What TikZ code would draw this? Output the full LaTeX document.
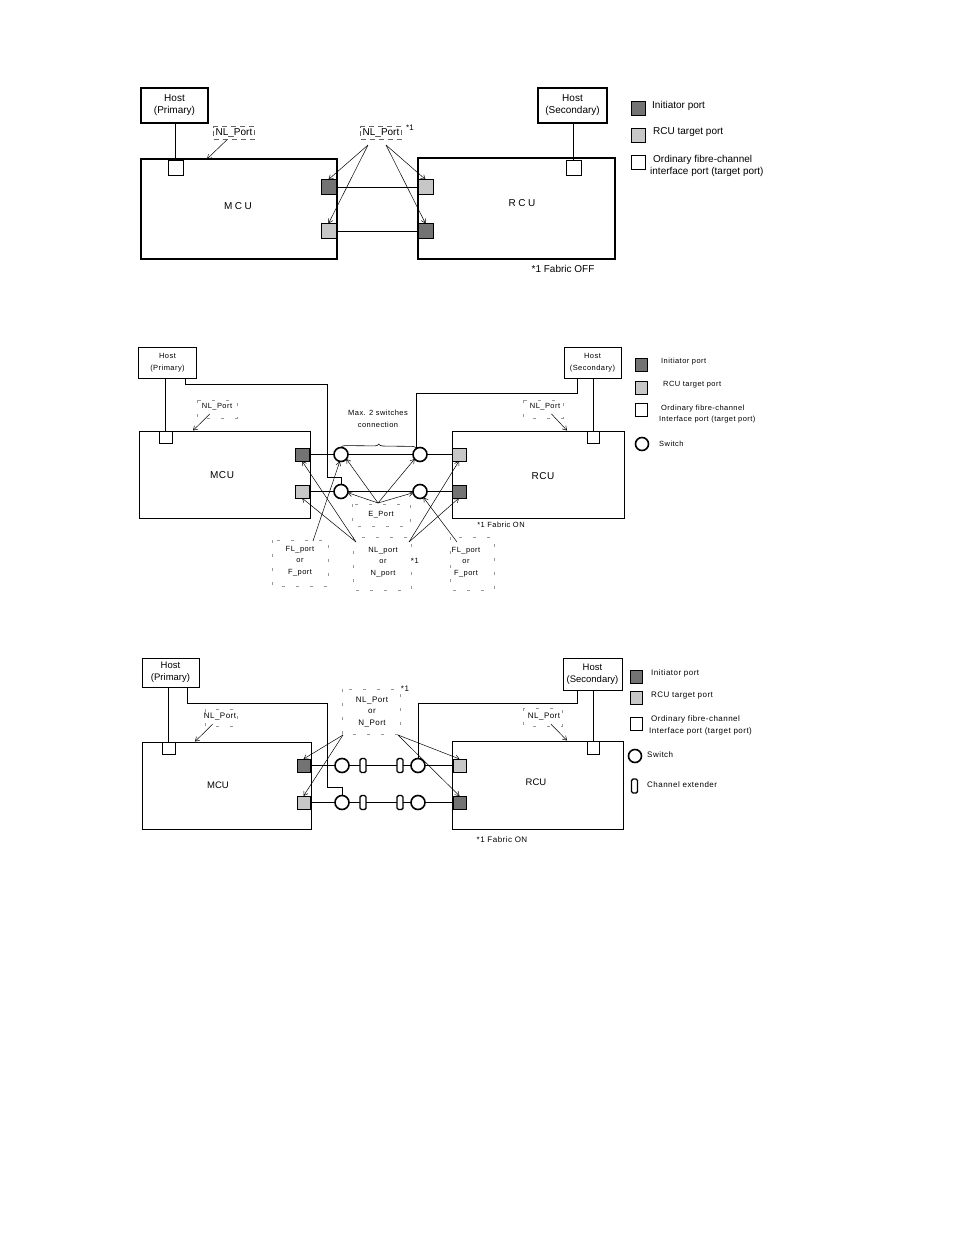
\documentclass[tikz,border=0pt]{standalone}
\usepackage{fontspec}
\setmainfont{Liberation Sans}
\newfontfamily\spcfont[LetterSpace=6]{Liberation Sans}
\newfontfamily\widefont[LetterSpace=25]{Liberation Sans}
\usetikzlibrary{arrows.meta,decorations.pathreplacing,calc}
\newcommand\ftop{\fontsize{10}{12}\selectfont}
\newcommand\fmid{\spcfont\fontsize{7.5}{11.5}\selectfont}
\newcommand\fbot{\spcfont\fontsize{8}{11.5}\selectfont}
\tikzset{
  heavybox/.style={draw, line width=1.7pt, inner sep=0pt, outer sep=0pt, fill=white},
  lightbox/.style={draw, line width=0.8pt, inner sep=0pt, outer sep=0pt, fill=white},
  portbase/.style={draw, line width=0.7pt, inner sep=0pt, outer sep=0pt},
  iport/.style={portbase, fill=black!55},
  tport/.style={portbase, fill=black!22},
  oport/.style={portbase, fill=white},
  switchnode/.style={circle, draw, line width=1.6pt, fill=white, inner sep=0pt, outer sep=0pt, minimum size=14pt},
  extnode/.style={rectangle, rounded corners=1.5pt, draw, line width=1.4pt, fill=white, inner sep=0pt, outer sep=0pt, minimum width=6pt, minimum height=14pt},
  conn/.style={line width=0.8pt},
  arr/.style={line width=0.5pt, -{Straight Barb[length=4pt,width=5pt]}},
  dlab/.style={draw=black!60, dash pattern=on 5pt off 4pt, line width=0.5pt, inner sep=2pt},
  dbox/.style={draw=black!40, dash pattern=on 3pt off 11pt, line width=0.5pt},
  txt/.style={inner sep=0pt, align=center},
}
\begin{document}
\begin{tikzpicture}[x=1pt,y=-1pt]
\path[use as bounding box] (0,0) rectangle (954,1235);

% ================= TOP DIAGRAM =================
\node[heavybox, minimum width=67pt, minimum height=35pt, align=center, font=\ftop] (h1) at (174.5,105.5) {Host\\(Primary)};
\node[heavybox, minimum width=196pt, minimum height=100pt] (mcu1) at (239,209) {};
\node[font=\widefont\fontsize{10}{12}\selectfont] at (238,206) {MCU};
\node[heavybox, minimum width=197pt, minimum height=101pt] (rcu1) at (516.5,208.5) {};
\node[font=\widefont\fontsize{10}{12}\selectfont] at (522,203) {RCU};
\node[heavybox, minimum width=69pt, minimum height=35pt, align=center, font=\ftop] (h2) at (572.5,105.5) {Host\\(Secondary)};

\node[oport, minimum size=15pt] (hp1) at (175.5,167.5) {};
\node[iport, minimum size=15pt] (m1) at (328.5,187) {};
\node[tport, minimum size=15pt] (m2) at (328.5,231) {};
\node[tport, minimum size=15pt] (r1) at (425.5,187) {};
\node[iport, minimum size=15pt] (r2) at (425.5,231) {};
\node[oport, minimum size=15pt] (hp2) at (573.5,167.5) {};

\draw[conn] (hp1.north) -- (hp1.north |- h1.south);
\draw[conn] (hp2.north) -- (hp2.north |- h2.south);
\draw[conn] (m1) -- (r1);
\draw[conn] (m2) -- (r2);

\node[dlab, font=\ftop] (nl1) at (234,133) {NL\_Port};
\coordinate (t1) at (207,159);
\draw[arr] (nl1) -- (t1);
\node[dlab, font=\ftop] (nl2) at (381,133) {NL\_Port};
\node[font=\fontsize{8}{9}\selectfont, inner sep=0pt] (st1) at (410,128) {*1};
\coordinate (o1) at (368,145);
\coordinate (o2) at (386,145);
\draw[arr] (o1) -- (m1.north);
\draw[arr] (o1) -- (m2.north);
\draw[arr] (o2) -- (r1.north);
\draw[arr] (o2) -- (r2.north);
\node[font=\ftop, inner sep=0pt] (fab1) at (563,269) {*1 Fabric OFF};

\node[iport, minimum size=14pt] (lg1) at (638.5,108.5) {};
\node[font=\ftop, anchor=west, inner sep=0pt] (lt1) at (652,106) {Initiator port};
\node[tport, minimum size=14pt] (lg2) at (638.5,135.5) {};
\node[font=\ftop, anchor=west, inner sep=0pt] (lt2) at (653,132) {RCU target port};
\node[oport, minimum size=14pt] (lg3) at (638.5,162.5) {};
\node[font=\ftop, anchor=west, inner sep=0pt, align=left] (lt3) at (650,165.5) {\hspace{3pt}Ordinary fibre-channel\\interface port (target port)};

% ================= MIDDLE DIAGRAM =================
\node[lightbox, minimum width=58pt, minimum height=31pt, align=center, font=\fmid] (h3) at (167.5,362.5) {Host\\(Primary)};
\node[lightbox, minimum width=171pt, minimum height=87pt] (mcu2) at (224.5,474.5) {};
\node[font=\spcfont\fontsize{10}{12}\selectfont] at (222,475) {MCU};
\node[lightbox, minimum width=172pt, minimum height=87pt] (rcu2) at (538,474.5) {};
\node[font=\spcfont\fontsize{10}{12}\selectfont] at (543,476) {RCU};
\node[lightbox, minimum width=57pt, minimum height=31pt, align=center, font=\fmid] (h4) at (592.5,362.5) {Host\\(Secondary)};

\node[oport, minimum width=13pt, minimum height=12pt] (hp3) at (165.5,437) {};
\node[iport, minimum width=14pt, minimum height=13pt] (m3) at (302,454.5) {};
\node[tport, minimum width=14pt, minimum height=13pt] (m4) at (302,491.5) {};
\node[tport, minimum width=14pt, minimum height=13pt] (r3) at (459,454.5) {};
\node[iport, minimum width=14pt, minimum height=13pt] (r4) at (459,491.5) {};
\node[oport, minimum width=12pt, minimum height=12pt] (hp4) at (593,437) {};

\node[switchnode] (sw1) at (341,454.5) {};
\node[switchnode] (sw2) at (420,454.5) {};
\node[switchnode] (sw3) at (341,491.5) {};
\node[switchnode] (sw4) at (420,491.5) {};

\draw[conn] (m3) -- (sw1) -- (sw2) -- (r3);
\draw[conn] (m4) -- (sw3) -- (sw4) -- (r4);
\draw[conn] (hp3.north) -- (hp3.north |- h3.south);
\draw[conn] ([xshift=17.5pt]h3.south) -- ++(0,6) -| (327,477) -| (sw3.north);
\draw[conn] ([xshift=-15.5pt]h4.south) -- ++(0,15) -| (sw2.120);
\draw[conn] (hp4.north) -- (hp4.north |- h4.south);
\draw[line width=0.6pt, decorate, decoration={brace, amplitude=4pt}] (sw1.north) -- (sw2.120);

\node[font=\fmid, align=center] (mx) at (378,419) {Max. 2 switches\\connection};
\node[font=\fmid] (nl3) at (217,407) {NL\_Port};
\draw[dbox] (197,400) rectangle (237,418);
\coordinate (t3) at (193,430.5);
\draw[arr] (nl3) -- (t3);
\node[font=\fmid] (nl4) at (545,407) {NL\_Port};
\draw[dbox] (523,400) rectangle (563,418);
\coordinate (t4) at (567,430.5);
\draw[arr] (nl4) -- (t4);

\node[font=\fmid] (ep) at (381,515) {E\_Port};
\draw[dbox] (352,504) rectangle (410,526);
\coordinate (epo) at (378,503);
\draw[arr] (epo) -- (sw1.-40);
\draw[arr] (epo) -- (sw3.-10);
\draw[arr] (epo) -- (sw2.-140);
\draw[arr] (epo) -- (sw4.190);

\node[font=\fmid, align=center] (nlm) at (383,562) {NL\_port\\or\\N\_port};
\node[font=\fmid, inner sep=0pt] (st2) at (415,561) {*1};
\draw[dbox] (353,537) rectangle (411,590);
\coordinate (nlo1) at (356,542);
\coordinate (nlo2) at (409,542);
\draw[arr] (nlo1) -- (m3.south);
\draw[arr] (nlo1) -- (m4.south);
\draw[arr] (nlo2) -- (r3.south);
\draw[arr] (nlo2) -- (r4.south);

\node[font=\fmid, align=center] (fl1) at (300,561) {FL\_port\\or\\F\_port};
\draw[dbox] (272,540) rectangle (328,586);
\coordinate (flo1) at (313,541);
\draw[arr] (flo1) -- (sw1.-100);
\node[font=\fmid, align=center] (fl2) at (466,562) {FL\_port\\or\\F\_port};
\draw[dbox] (450,537) rectangle (494,590);
\coordinate (flo2) at (457,542);
\draw[arr] (flo2) -- (sw4.-60);

\node[font=\fmid, inner sep=0pt] (fab2) at (501,525) {*1 Fabric ON};

\node[iport, minimum width=12pt, minimum height=13pt] (lg4) at (641,365) {};
\node[font=\fmid, anchor=west, inner sep=0pt] (lt4) at (661,362) {Initiator port};
\node[tport, minimum width=12pt, minimum height=13pt] (lg5) at (641,387.5) {};
\node[font=\fmid, anchor=west, inner sep=0pt] (lt5) at (663,385) {RCU target port};
\node[oport, minimum width=12pt, minimum height=13pt] (lg6) at (641,410) {};
\node[font=\fmid, anchor=west, inner sep=0pt, align=left] (lt6) at (659,414) {\hspace{2pt}Ordinary fibre-channel\\Interface port (target port)};
\node[switchnode, minimum size=13pt] (lg7) at (642,444) {};
\node[font=\fmid, anchor=west, inner sep=0pt] (lt7) at (659,444) {Switch};

% ================= BOTTOM DIAGRAM =================
\node[lightbox, minimum width=57pt, minimum height=29pt, align=center, font=\fontsize{9.5}{12}\selectfont] (h5) at (170.5,672.5) {Host\\(Primary)};
\node[lightbox, minimum width=169pt, minimum height=87pt] (mcu3) at (226.5,785.5) {};
\node[font=\fontsize{9.5}{12}\selectfont] at (218,785) {MCU};
\node[lightbox, minimum width=171pt, minimum height=88pt] (rcu3) at (537.5,785) {};
\node[font=\fontsize{9.5}{12}\selectfont] at (536,782) {RCU};
\node[lightbox, minimum width=59pt, minimum height=32pt, align=center, font=\fontsize{9.5}{12}\selectfont] (h6) at (592.5,674) {Host\\(Secondary)};

\node[oport, minimum width=13pt, minimum height=12pt] (hp5) at (168.5,748) {};
\node[iport, minimum size=13pt] (m5) at (303.5,765.5) {};
\node[tport, minimum size=13pt] (m6) at (303.5,802.5) {};
\node[tport, minimum size=13pt] (r5) at (459.5,765.5) {};
\node[iport, minimum size=13pt] (r6) at (459.5,802.5) {};
\node[oport, minimum width=12pt, minimum height=13pt] (hp6) at (593,747.5) {};

\node[switchnode] (sw5) at (342,765.5) {};
\node[extnode] (e1) at (363,765.5) {};
\node[extnode] (e2) at (400,765.5) {};
\node[switchnode] (sw6) at (418,765.5) {};
\node[switchnode] (sw7) at (342,802.5) {};
\node[extnode] (e3) at (363,802.5) {};
\node[extnode] (e4) at (400,802.5) {};
\node[switchnode] (sw8) at (418,802.5) {};

\draw[conn] (m5) -- (sw5) -- (e1) -- (e2) -- (sw6) -- (r5);
\draw[conn] (m6) -- (sw7) -- (e3) -- (e4) -- (sw8) -- (r6);
\draw[conn] (hp5.north) -- (hp5.north |- h5.south);
\draw[conn] ([xshift=16.5pt]h5.south) -- ++(0,16) -| (327,787) -| (sw7.north);
\draw[conn] ([xshift=-15.5pt]h6.south) -- ++(0,13) -| (sw6.north);
\draw[conn] (hp6.north) -- (hp6.north |- h6.south);

\node[font=\fbot] (nl5) at (220,717) {NL\_Port};
\draw[dbox] (205,709) rectangle (237,726);
\coordinate (t5) at (195,741.5);
\draw[arr] (nl5) -- (t5);
\node[font=\fbot] (nl6) at (544,717) {NL\_Port};
\draw[dbox] (523,708) rectangle (562,726);
\coordinate (t6) at (567,740.5);
\draw[arr] (nl6) -- (t6);

\node[font=\fbot, align=center] (nlc) at (372,712) {NL\_Port\\or\\N\_Port};
\node[font=\fbot, inner sep=0pt] (st3) at (405,689) {*1};
\draw[dbox] (342,689) rectangle (400,734);
\coordinate (co1) at (343,735);
\coordinate (co2) at (398,735);
\draw[arr] (co1) -- (m5.north);
\draw[arr] (co1) -- (m6.north);
\draw[arr] (co2) -- (r5.north);
\draw[arr] (co2) -- (r6.north);

\node[font=\fbot, inner sep=0pt] (fab3) at (502,840) {*1 Fabric ON};

\node[iport, minimum width=12pt, minimum height=13pt] (lg8) at (636,676.5) {};
\node[font=\fbot, anchor=west, inner sep=0pt] (lt8) at (651,673) {Initiator port};
\node[tport, minimum width=12pt, minimum height=13pt] (lg9) at (636,697.5) {};
\node[font=\fbot, anchor=west, inner sep=0pt] (lt9) at (651,696) {RCU target port};
\node[oport, minimum width=12pt, minimum height=13pt] (lg10) at (636,723.5) {};
\node[font=\fbot, anchor=west, inner sep=0pt, align=left] (lt10) at (649,725.5) {\hspace{2pt}Ordinary fibre-channel\\Interface port (target port)};
\node[switchnode, minimum size=13pt] (lg11) at (635,756) {};
\node[font=\fbot, anchor=west, inner sep=0pt] (lt11) at (647,755) {Switch};
\node[extnode] (lg12) at (634.5,786) {};
\node[font=\fbot, anchor=west, inner sep=0pt] (lt12) at (647,785) {Channel extender};

\end{tikzpicture}
\end{document}
